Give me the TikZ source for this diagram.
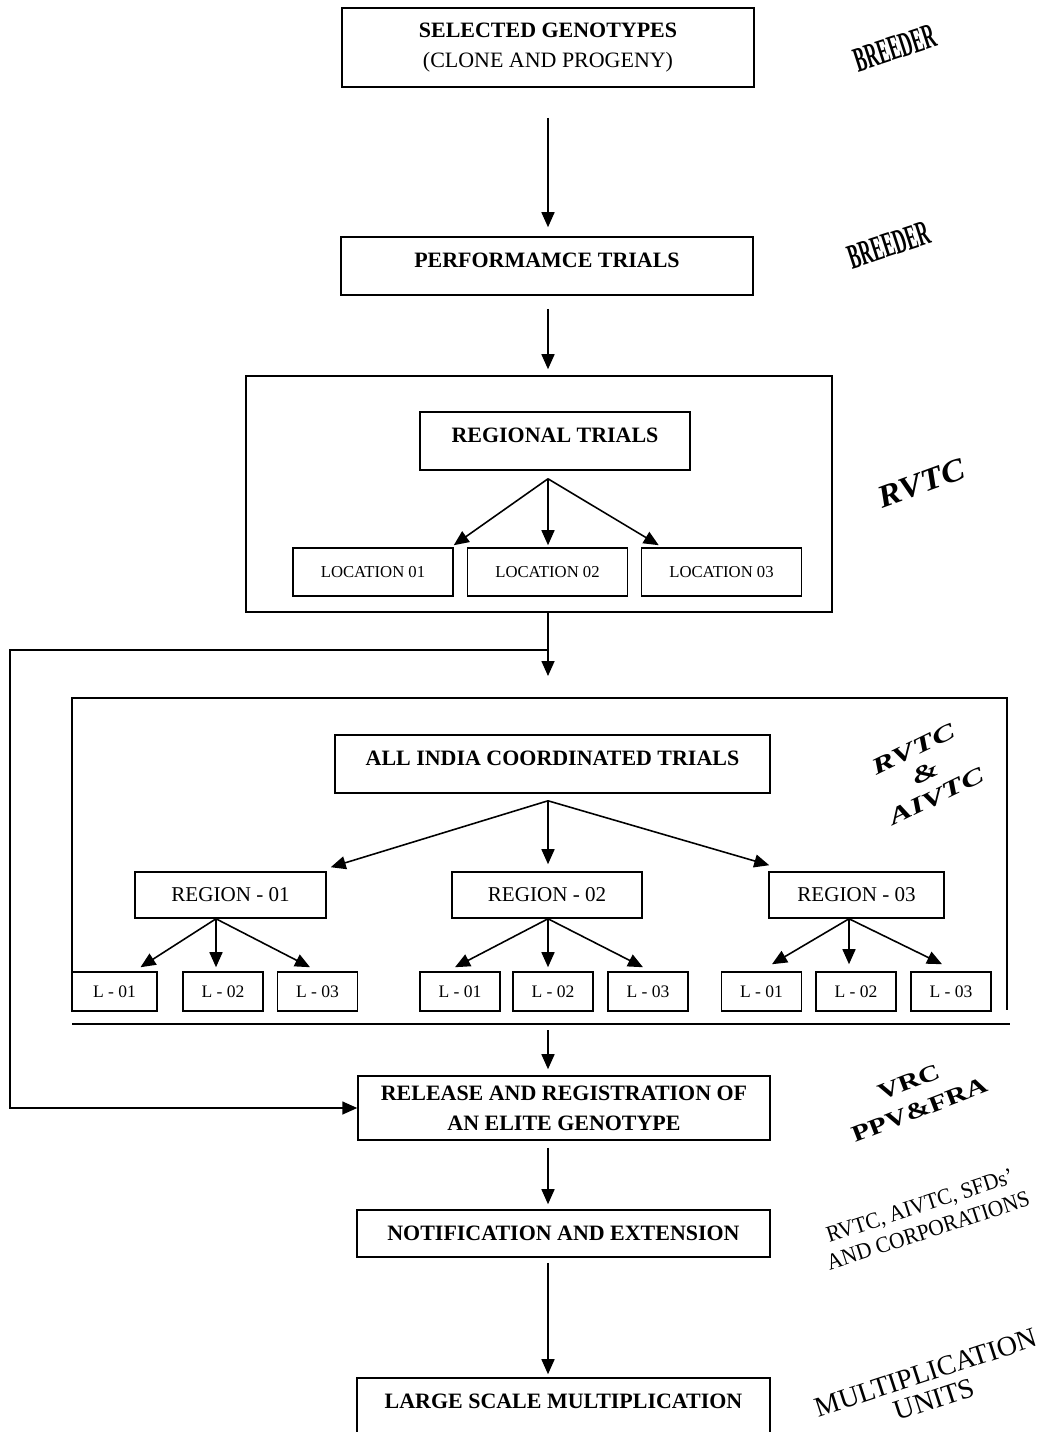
\documentclass[tikz,border=0pt]{standalone}
\usepackage{fontspec}
\setmainfont{Liberation Serif}
\usetikzlibrary{arrows.meta,calc}

\tikzset{
  box/.style={draw, line width=0.9pt, inner sep=0pt, align=center},
  headbox/.style={box, font=\fontsize{12.5}{17}\selectfont\bfseries},
  regbox/.style={box, font=\fontsize{12}{14}\selectfont, minimum height=0.92cm},
  locbox/.style={box, font=\fontsize{9.5}{11}\selectfont, minimum width=3.2cm, minimum height=0.96cm},
  lbox/.style={box, font=\fontsize{10}{12}\selectfont, minimum width=1.6cm, minimum height=0.78cm},
  lift/.style={text depth=0.24cm},
  flow/.style={line width=0.9pt, -{Triangle[length=0.3cm,width=0.26cm]}},
  who/.style={align=center, inner sep=0pt}
}

\newcommand{\wide}[2]{\scalebox{#1}[1]{#2}}

\begin{document}
\begin{tikzpicture}[x=0.02cm, y=-0.02cm]

    \useasboundingbox (0,0) rectangle (1042,1432);

    % Vertical line of the main chain
    \coordinate (spine) at (548,0);

    % First two steps
    \node[headbox, minimum width=8.24cm, minimum height=1.58cm] (sel) at (548,47.5)
        {SELECTED GENOTYPES\\{\mdseries (CLONE AND PROGENY)}};
    \node[headbox, lift, minimum width=8.24cm, minimum height=1.16cm] (perf) at (547,266)
        {PERFORMAMCE TRIALS};

    \draw[flow, shorten <=0.6cm, shorten >=0.18cm] (spine |- sel.south) -- (spine |- perf.north);

    % Regional trials frame
    \node[box, minimum width=11.72cm, minimum height=4.72cm] (rvtcbox) at (539,494) {};
    \node[headbox, lift, minimum width=5.4cm, minimum height=1.16cm] (regional) at (555,441)
        {REGIONAL TRIALS};
    \node[locbox] (loc1) at (373,572) {LOCATION 01};
    \node[locbox] (loc2) at (547.5,572) {LOCATION 02};
    \node[locbox] (loc3) at (721.5,572) {LOCATION 03};

    \draw[flow, shorten <=0.26cm, shorten >=0.12cm] (spine |- perf.south) -- (spine |- rvtcbox.north);

    \coordinate (rt) at ($(spine |- regional.south)+(0,8)$);
    \draw[flow] (rt) -- ($(loc1.north east)+(0,-2)$);
    \draw[flow] (rt) -- ($(spine |- loc2.north)+(0,-2)$);
    \draw[flow] (rt) -- ($(loc3.north west)+(18,-2)$);

    % All India frame (open at the bottom)
    \coordinate (bigNW) at (72,698);
    \coordinate (bigNE) at (1007,698);
    \coordinate (bigSW) at (72,1010);
    \coordinate (bigSE) at (1007,1010);
    \coordinate (sepW) at (72,1024);
    \coordinate (sepE) at (1010,1024);
    \draw[line width=0.9pt] (bigSW) -- (bigNW) -- (bigNE) -- (bigSE);
    \draw[line width=0.9pt] (sepW) -- (sepE);

    \draw[flow, shorten >=0.44cm] (spine |- rvtcbox.south) -- (spine |- bigNW);

    % Feedback line to the release step
    \coordinate (fork) at (548,650);
    \coordinate (bend) at (10,650);

    \node[headbox, lift, minimum width=8.7cm, minimum height=1.16cm] (aic) at (552.5,764)
        {ALL INDIA COORDINATED TRIALS};

    \node[regbox, minimum width=3.82cm] (r1) at (230.5,895) {REGION - 01};
    \node[regbox, minimum width=3.8cm] (r2) at (547,895) {REGION - 02};
    \node[regbox, minimum width=3.5cm] (r3) at (856.5,895) {REGION - 03};

    \coordinate (at) at ($(spine |- aic.south)+(0,7)$);
    \draw[flow] (at) -- ($(r1.north east)+(4,-4)$);
    \draw[flow] (at) -- ($(spine |- r2.north)+(0,-7)$);
    \draw[flow] (at) -- ($(r3.north west)+(1,-6)$);

    % Locations of each region
    \node[lbox, minimum width=1.7cm] (l11) at (114.5,991.5) {L - 01};
    \node[lbox] (l12) at (223,991.5) {L - 02};
    \node[lbox] (l13) at (317.5,991.5) {L - 03};
    \node[lbox] (l21) at (460,991.5) {L - 01};
    \node[lbox] (l22) at (553,991.5) {L - 02};
    \node[lbox] (l23) at (648,991.5) {L - 03};
    \node[lbox] (l31) at (761.5,991.5) {L - 01};
    \node[lbox] (l32) at (856,991.5) {L - 02};
    \node[lbox] (l33) at (951,991.5) {L - 03};

    \coordinate (r1o) at ($(r1.south)+(-14.5,0)$);
    \draw[flow] (r1o) -- ($(l11.north)+(26,-4)$);
    \draw[flow] (r1o) -- ($(r1o |- l12.north)+(0,-4)$);
    \draw[flow] (r1o) -- ($(l13.north)+(-7.5,-4)$);

    \coordinate (r2o) at ($(r2.south)+(1,0)$);
    \draw[flow] (r2o) -- ($(l21.north)+(-5,-4)$);
    \draw[flow] (r2o) -- ($(r2o |- l22.north)+(0,-4)$);
    \draw[flow] (r2o) -- ($(l23.north)+(-5,-4)$);

    \coordinate (r3o) at ($(r3.south)+(-7.5,0)$);
    \draw[flow] (r3o) -- ($(l31.north)+(10.5,-7)$);
    \draw[flow] (r3o) -- ($(r3o |- l32.north)+(0,-7)$);
    \draw[flow] (r3o) -- ($(l33.north)+(-9,-7)$);

    % Last steps
    \node[headbox, minimum width=8.24cm, minimum height=1.28cm] (rel) at (564,1108)
        {RELEASE AND REGISTRATION OF\\AN ELITE GENOTYPE};
    \node[headbox, minimum width=8.26cm, minimum height=0.94cm] (notif) at (563.5,1233.5)
        {NOTIFICATION AND EXTENSION};
    \node[headbox, lift, minimum width=8.26cm, minimum height=1.16cm] (large) at (563.5,1407)
        {LARGE SCALE MULTIPLICATION};

    \draw[flow] (fork) -- (bend) |- (rel.west);
    \draw[flow, shorten <=0.12cm, shorten >=0.12cm] (spine |- sepW) -- (spine |- rel.north);
    \draw[flow, shorten <=0.14cm, shorten >=0.1cm] (spine |- rel.south) -- (spine |- notif.north);
    \draw[flow, shorten <=0.1cm, shorten >=0.06cm] (spine |- notif.south) -- (spine |- large.north);

    % Who is in charge of each step
    \node[who, rotate=18, font=\fontsize{20}{22}\selectfont\bfseries] (who1) at (895,48)
        {\wide{0.5}{BREEDER}};
    \node[who, rotate=18, font=\fontsize{20}{22}\selectfont\bfseries] (who2) at (889,245)
        {\wide{0.5}{BREEDER}};
    \node[who, rotate=20, font=\fontsize{18}{20}\selectfont\bfseries\itshape] (who3) at (921,483)
        {\wide{1.1}{RVTC}};
    \node[who, rotate=26, font=\fontsize{13}{15}\selectfont\bfseries\itshape] (who4) at (925,773)
        {\wide{1.5}{RVTC}\\\wide{1.5}{\&}\\\wide{1.5}{AIVTC}};
    \node[who, rotate=21, font=\fontsize{13}{17}\selectfont\bfseries] (who5) at (914,1096)
        {\wide{1.3}{VRC}\\\wide{1.3}{PPV\&FRA}};
    \node[who, rotate=18, font=\fontsize{13}{15}\selectfont] (who6) at (924,1218)
        {\wide{0.93}{RVTC, AIVTC, SFDs'}\\\wide{0.93}{AND CORPORATIONS}};
    \node[who, rotate=18, font=\fontsize{16}{16}\selectfont] (who7) at (930,1386)
        {MULTIPLICATION\\UNITS};

\end{tikzpicture}
\end{document}
